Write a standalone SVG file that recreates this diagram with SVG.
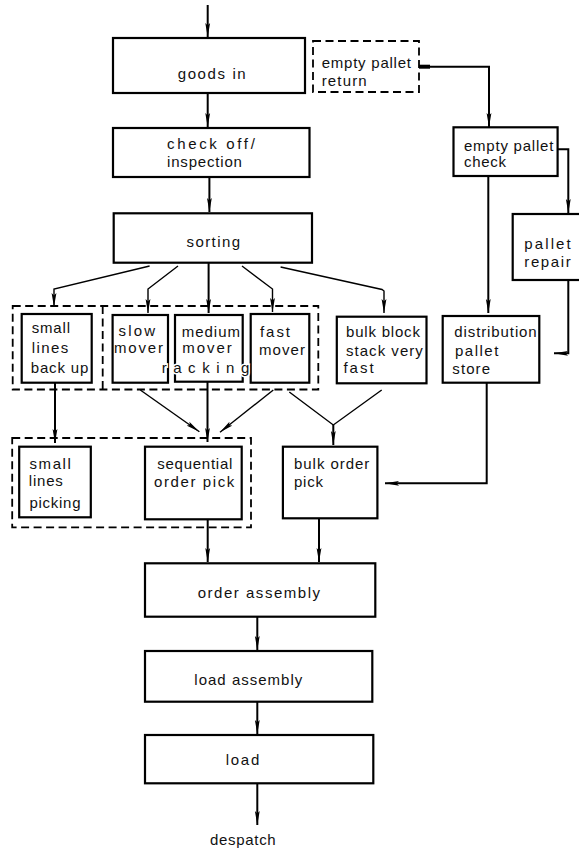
<svg xmlns="http://www.w3.org/2000/svg" width="579" height="850" viewBox="0 0 579 850">
<style>
  .box { fill: #fff; stroke: #000; stroke-width: 2.2; }
  .dash { fill: none; stroke: #000; stroke-width: 1.8; stroke-dasharray: 8 4.5; }
  .ln { fill: none; stroke: #000; stroke-width: 2; }
  .lnA { fill: none; stroke: #000; stroke-width: 2; marker-end: url(#ah); }
  .thin { fill: none; stroke: #000; stroke-width: 1.4; }
  .thinA { fill: none; stroke: #000; stroke-width: 1.4; marker-end: url(#ah); }
  text { font-family: "Liberation Sans", Arial, sans-serif; font-size: 15px; fill: #111; }
  .over { stroke: #fff; stroke-width: 3; paint-order: stroke; }
</style>
<defs>
  <marker id="ah" viewBox="0 0 14 6" refX="14" refY="3" markerWidth="14" markerHeight="6" markerUnits="userSpaceOnUse" orient="auto">
    <path d="M0,0.6 L14,3 L0,5.4 L2.5,3 z" fill="#000"/>
  </marker>
</defs>
<rect width="579" height="850" fill="#fff"/>

<g id="connectors">
  <path class="lnA" d="M207.7,5 L207.7,37"/>
  <path class="lnA" d="M207.7,93 L207.7,127"/>
  <path class="lnA" d="M209.4,177 L209.4,212"/>
  <path class="lnA" d="M419,66.7 L489,66.7 L489,127"/>
  <path d="M419,66.7 L430,66.7" stroke="#000" stroke-width="4"/>
  <path class="lnA" d="M557.6,149.3 L568.3,149.3 L568.3,213"/>
  <path class="lnA" d="M488.3,176 L488.3,313"/>
  <path class="lnA" d="M568.3,280 L568.3,353.3 L554,353.3"/>
  <path class="lnA" d="M486.7,383 L486.7,483.3 L385,483.3"/>
  <path class="thinA" d="M149.6,266 L54,289 L54,307"/>
  <path class="thinA" d="M178,266 L148,289 L148,313"/>
  <path class="lnA" d="M208.6,263 L208.6,313"/>
  <path class="thinA" d="M242,266 L272.5,289 L272.5,312"/>
  <path class="thinA" d="M280.6,267 L382,289.5 L384,291 L384,313"/>
  <path class="lnA" d="M55,383 L55,443"/>
  <path class="thinA" d="M140.3,390 L199.4,431.7"/>
  <path class="lnA" d="M207.5,382 L207.5,442"/>
  <path class="thinA" d="M273.3,390 L220,432.3"/>
  <path class="thin" d="M289.3,392 L333.3,425 L381.7,390"/>
  <path class="lnA" d="M333.3,425 L333.3,445"/>
  <path class="lnA" d="M207.7,519 L207.7,562"/>
  <path class="lnA" d="M319,518 L319,562"/>
  <path class="lnA" d="M257.3,617 L257.3,650"/>
  <path class="lnA" d="M257.3,702 L257.3,734"/>
  <path class="lnA" d="M257.3,784 L257.3,825"/>
</g>

<g id="picking-group">
  <rect class="dash" x="12.2" y="438" width="238.8" height="89.3"/>
</g>

<g id="goods-in">
  <rect class="box" x="113" y="38" width="192" height="55"/>
  <text x="177.7" y="79" textLength="68" lengthAdjust="spacing">goods  in</text>
</g>
<g id="empty-pallet-return">
  <rect class="dash" x="313" y="41" width="106" height="51"/>
  <text x="321.7" y="67.7" textLength="89.3" lengthAdjust="spacing">empty  pallet</text>
  <text x="321.7" y="86" textLength="45" lengthAdjust="spacing">return</text>
</g>
<g id="check-off">
  <rect class="box" x="113" y="128" width="196.5" height="49"/>
  <text x="167" y="149.3" textLength="87.8" lengthAdjust="spacing">check off/</text>
  <text x="167" y="167.3" textLength="74.9" lengthAdjust="spacing">inspection</text>
</g>
<g id="sorting">
  <rect class="box" x="113.7" y="213.3" width="198.3" height="49.4"/>
  <text x="186.5" y="246.7" textLength="53.5" lengthAdjust="spacing">sorting</text>
</g>
<g id="empty-pallet-check">
  <rect class="box" x="453.5" y="127.3" width="104.1" height="48.7"/>
  <text x="464" y="151" textLength="89.3" lengthAdjust="spacing">empty  pallet</text>
  <text x="464" y="167" textLength="42" lengthAdjust="spacing">check</text>
</g>
<g id="pallet-repair">
  <rect class="box" x="512.7" y="214" width="70" height="66"/>
  <text x="524.3" y="249.3" textLength="46.4" lengthAdjust="spacing">pallet</text>
  <text x="524.3" y="266.7" textLength="46.4" lengthAdjust="spacing">repair</text>
</g>
<g id="small-lines-back-up">
  <rect class="box" x="21.7" y="314" width="70" height="68.7"/>
  <text x="31.7" y="333.3" textLength="38.3" lengthAdjust="spacing">small</text>
  <text x="31.7" y="353.3" textLength="36.6" lengthAdjust="spacing">lines</text>
  <text x="30.7" y="372.7" textLength="57.6" lengthAdjust="spacing">back up</text>
</g>
<g id="slow-mover">
  <rect class="box" x="112.6" y="315" width="55.4" height="67.7"/>
  <text x="118.5" y="335.7" textLength="36.5" lengthAdjust="spacing">slow</text>
  <text x="114" y="353.3" textLength="49" lengthAdjust="spacing">mover</text>
</g>
<g id="medium-mover">
  <rect class="box" x="175" y="315" width="67.7" height="66.7"/>
  <text x="181.7" y="336.7" textLength="58.3" lengthAdjust="spacing">medium</text>
  <text x="182.3" y="353.3" textLength="49.4" lengthAdjust="spacing">mover</text>
</g>
<g id="fast-mover">
  <rect class="box" x="250.7" y="314" width="58.6" height="68.7"/>
  <text x="260" y="337.3" textLength="30" lengthAdjust="spacing">fast</text>
  <text x="259" y="355" textLength="46" lengthAdjust="spacing">mover</text>
</g>
<g id="bulk-block">
  <rect class="box" x="336.8" y="316.7" width="89.7" height="66.6"/>
  <text x="346" y="336.7" textLength="73.9" lengthAdjust="spacing">bulk block</text>
  <text x="346" y="355.7" textLength="76.8" lengthAdjust="spacing">stack  very</text>
  <text x="343.4" y="373.3" textLength="30.3" lengthAdjust="spacing">fast</text>
</g>
<g id="distribution-pallet-store">
  <rect class="box" x="442.7" y="316" width="96.6" height="66.7"/>
  <text x="454.3" y="336.7" textLength="82.4" lengthAdjust="spacing">distribution</text>
  <text x="455" y="355.7" textLength="43.3" lengthAdjust="spacing">pallet</text>
  <text x="452.3" y="374" textLength="37.7" lengthAdjust="spacing">store</text>
</g>
<g id="small-lines-picking">
  <rect class="box" x="19.2" y="446.7" width="71.6" height="70.6"/>
  <text x="29.5" y="469.3" textLength="41.4" lengthAdjust="spacing">small</text>
  <text x="28.8" y="486" textLength="34" lengthAdjust="spacing">lines</text>
  <text x="29.5" y="508.3" textLength="51" lengthAdjust="spacing">picking</text>
</g>
<g id="sequential-order-pick">
  <rect class="box" x="145" y="446.7" width="96.7" height="72.6"/>
  <text x="157.3" y="469.3" textLength="75" lengthAdjust="spacing">sequential</text>
  <text x="154" y="487.3" textLength="80.3" lengthAdjust="spacing">order  pick</text>
</g>
<g id="bulk-order-pick">
  <rect class="box" x="282.9" y="446.7" width="94.5" height="71.6"/>
  <text x="294" y="469.3" textLength="75.3" lengthAdjust="spacing">bulk  order</text>
  <text x="294" y="487" textLength="29" lengthAdjust="spacing">pick</text>
</g>
<g id="order-assembly">
  <rect class="box" x="145" y="563.3" width="230.3" height="53.4"/>
  <text x="197.7" y="597.7" textLength="122.3" lengthAdjust="spacing">order   assembly</text>
</g>
<g id="load-assembly">
  <rect class="box" x="145" y="651" width="227.3" height="50.7"/>
  <text x="194.3" y="685" textLength="108" lengthAdjust="spacing">load   assembly</text>
</g>
<g id="load">
  <rect class="box" x="145" y="735" width="228.3" height="48.3"/>
  <text x="225.7" y="765" textLength="33.6" lengthAdjust="spacing">load</text>
</g>
<g id="despatch">
  <text x="210" y="845" textLength="65.7" lengthAdjust="spacing">despatch</text>
</g>

<g id="racking-group">
  <rect class="dash" x="12.7" y="306" width="305.6" height="83.5"/>
  <path class="dash" d="M102.7,306 L102.7,389.5"/>
  <text class="over" x="161.7" y="372.7" textLength="87.6" lengthAdjust="spacing">r a c k i n g</text>
</g>
</svg>
